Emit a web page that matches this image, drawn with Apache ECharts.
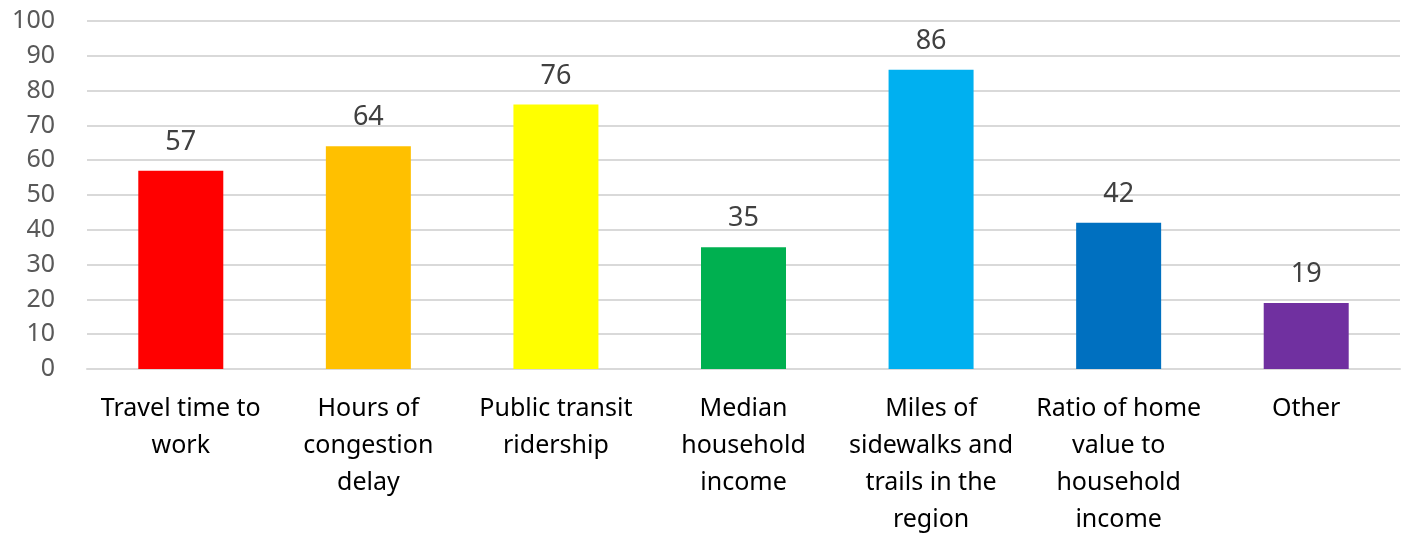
<!DOCTYPE html>
<html>
<head>
<meta charset="utf-8">
<script src="https://cdn.jsdelivr.net/npm/echarts@6/dist/echarts.min.js"></script>
<style>html,body{margin:0;padding:0;background:#fff;}#c{width:1405px;height:533px;}</style>
</head>
<body>
<div id="c"></div>
<script>
const categories = ["Travel time to\nwork", "Hours of\ncongestion\ndelay", "Public transit\nridership", "Median\nhousehold\nincome", "Miles of\nsidewalks and\ntrails in the\nregion", "Ratio of home\nvalue to\nhousehold\nincome", "Other"];
const values = [57, 64, 76, 35, 86, 42, 19];
const colors = ["#FF0000", "#FFC000", "#FFFF00", "#00B050", "#00B0F0", "#0070C0", "#7030A0"];
const yTicks = [0, 100, 10];

const chart = echarts.init(document.getElementById('c'), null, {renderer: 'canvas'});
const font = "'Noto Sans', 'Open Sans', sans-serif";
chart.setOption({
  animation: false,
  textStyle: {fontFamily: font},
  grid: {left: 87, right: 5, top: 21, bottom: 164, containLabel: false, outerBoundsMode: 'none'},
  xAxis: {
    type: 'category',
    data: categories,
    axisLine: {show: true, lineStyle: {color: '#d9d9d9', width: 2}},
    axisTick: {show: false},
    axisLabel: {interval: 0, color: '#000', fontSize: 25, lineHeight: 37, margin: 21, fontFamily: font}
  },
  yAxis: {
    type: 'value',
    min: yTicks[0], max: yTicks[1], interval: yTicks[2],
    axisLine: {show: false},
    axisTick: {show: false},
    splitLine: {lineStyle: {color: '#d9d9d9', width: 2}},
    axisLabel: {color: '#595959', fontSize: 25, margin: 32, fontFamily: font}
  },
  series: [{
    type: 'bar',
    data: values.map((v, i) => ({value: v, itemStyle: {color: colors[i]}})),
    barWidth: 85,
    label: {show: true, position: 'top', distance: 15, color: '#404040', fontSize: 27, fontFamily: font}
  }]
});
</script>
</body>
</html>
